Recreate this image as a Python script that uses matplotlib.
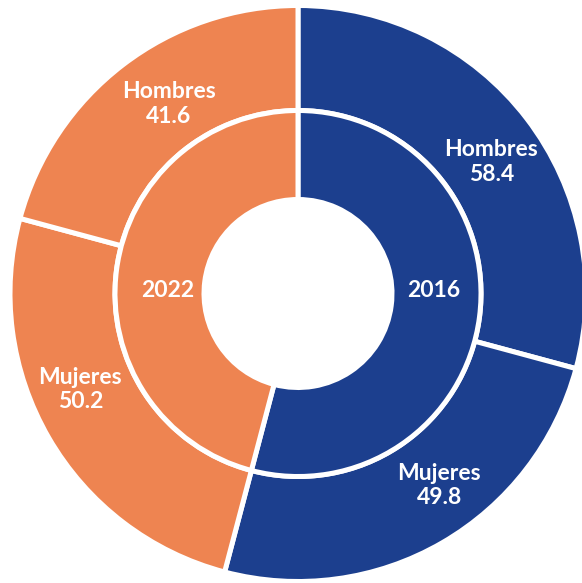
import numpy as np
import matplotlib.pyplot as plt

# datos: anillo interior (años) y anillo exterior (sexo por año)
anios = ['2016', '2022']
hombres = [58.4, 41.6]
mujeres = [49.8, 50.2]

# orden exterior: 2016 Hombres, 2016 Mujeres, 2022 Mujeres, 2022 Hombres
ext_etiquetas = ['Hombres', 'Mujeres', 'Mujeres', 'Hombres']
ext_valores = [hombres[0], mujeres[0], mujeres[1], hombres[1]]
int_valores = [hombres[0] + mujeres[0], mujeres[1] + hombres[1]]

azul = '#1c3f8e'
naranja = '#ee8451'

fig = plt.figure(figsize=(5.82, 5.83), dpi=100)
ax = fig.add_axes([0, 0, 1, 1])

R = 1.0
r_mid = 183 / 288
r_hole = 94 / 288

wp = dict(edgecolor='white', linewidth=3.6)
ext, _ = ax.pie(ext_valores, radius=R, startangle=90, counterclock=False,
                colors=[azul, azul, naranja, naranja],
                wedgeprops=dict(width=R - r_mid, **wp))
inn, _ = ax.pie(int_valores, radius=r_mid, startangle=90, counterclock=False,
                colors=[azul, naranja],
                wedgeprops=dict(width=r_mid - r_hole, **wp))

fuente = dict(color='white', fontsize=16.5, fontweight='bold', family='Lato',
              ha='center', va='center', linespacing=1.2)

# etiquetas exteriores: angulo medio de cada cuña con un ajuste
ajuste = [-3.2, 6.3, -6.3, -3.2]
dist = [0.812, 0.828, 0.826, 0.796]
for w, lab, val, d, rr in zip(ext, ext_etiquetas, ext_valores, ajuste, dist):
    ang = np.deg2rad((w.theta1 + w.theta2) / 2 + d)
    ax.text(rr * np.cos(ang), rr * np.sin(ang), f'{lab}\n{val}', **fuente)

# etiquetas interiores: sobre el eje horizontal
ax.text(0.470, 0.012, anios[0], **fuente)
ax.text(-0.453, 0.012, anios[1], **fuente)

ax.set_xlim(-298 / 288, (582 - 298) / 288)
ax.set_ylim(-289.5 / 288, (583 - 289.5) / 288)
ax.set_aspect('equal')
ax.axis('off')

plt.savefig('out.png', dpi=100)
